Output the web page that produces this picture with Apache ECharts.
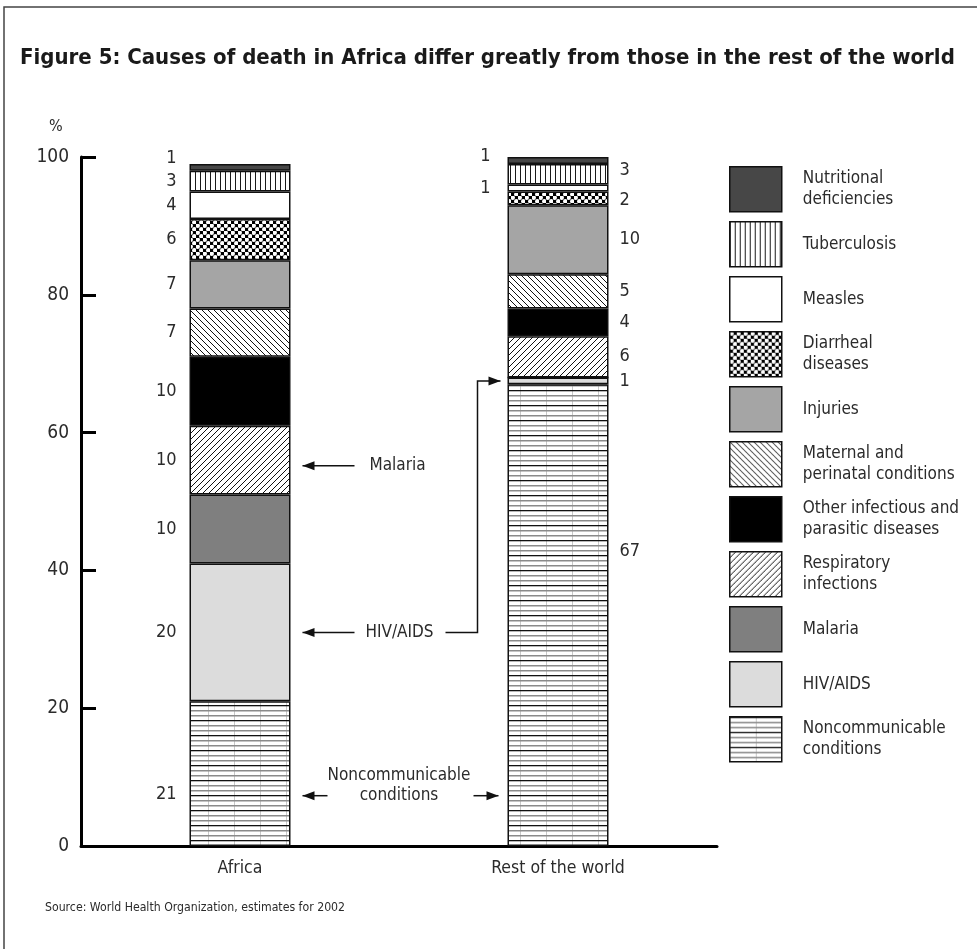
<!DOCTYPE html>
<html>
<head>
<meta charset="utf-8">
<title>Causes of death in Africa</title>
<script src="https://cdn.jsdelivr.net/npm/echarts@6/dist/echarts.min.js"></script>
<style>
  html, body { margin: 0; padding: 0; background: #fff; }
  #main { width: 977px; height: 949px; }
</style>
</head>
<body>
<div id="main"></div>
<script>
// Share of deaths (%) by cause, WHO estimates for 2002
const categories = ['Africa', 'Rest of the world'];
// Stacking order, bottom to top
const causes = [
  'Noncommunicable conditions',
  'HIV/AIDS',
  'Malaria',
  'Respiratory infections',
  'Other infectious and parasitic diseases',
  'Maternal and perinatal conditions',
  'Injuries',
  'Diarrheal diseases',
  'Measles',
  'Tuberculosis',
  'Nutritional deficiencies'
];
const africaShares = [21, 20, 10, 10, 10, 7, 7, 6, 4, 3, 1];
const restShares   = [67, 1, 0, 6, 4, 5, 10, 2, 1, 3, 1];
const yTicks = [0, 20, 40, 60, 80, 100];

const FONT = '"DejaVu Sans Condensed", "Liberation Sans Narrow", "Liberation Sans", sans-serif';
const INK = '#2b2b2b';

// ---- fill patterns -------------------------------------------------------
function pattern(w, h, draw) {
  const c = document.createElement('canvas');
  c.width = w; c.height = h;
  const ctx = c.getContext('2d');
  draw(ctx, w, h);
  return { image: c, repeat: 'repeat' };
}
const verticalLines = pattern(5, 5, (ctx, w, h) => {
  ctx.fillStyle = '#fff'; ctx.fillRect(0, 0, w, h);
  ctx.fillStyle = '#1a1a1a'; ctx.fillRect(0, 0, 1, h);
});
const dots = pattern(7, 7, (ctx, w, h) => {
  ctx.fillStyle = '#000'; ctx.fillRect(0, 0, w, h);
  ctx.fillStyle = '#fff';
  [[1.75, 1.75], [5.25, 5.25]].forEach(([x, y]) => {
    ctx.beginPath(); ctx.arc(x, y, 2.2, 0, Math.PI * 2); ctx.fill();
  });
});
function diagonal(backward) {
  return pattern(6, 6, (ctx, w, h) => {
    ctx.fillStyle = '#fff'; ctx.fillRect(0, 0, w, h);
    ctx.strokeStyle = '#111'; ctx.lineWidth = 1;
    for (let k = -w; k <= w; k += w) {
      ctx.beginPath();
      if (backward) { ctx.moveTo(k, 0); ctx.lineTo(k + w, h); }
      else { ctx.moveTo(k + w, 0); ctx.lineTo(k, h); }
      ctx.stroke();
    }
  });
}
const hLines = pattern(26, 15, (ctx, w, h) => {
  ctx.fillStyle = '#fff'; ctx.fillRect(0, 0, w, h);
  ctx.fillStyle = '#c8c8c8'; ctx.fillRect(0, 0, 1, h);
  ctx.fillStyle = '#111'; ctx.fillRect(0, 0, w, 1.3);
  ctx.fillStyle = '#8a8a8a'; ctx.fillRect(0, 5, w, 1.5); ctx.fillRect(0, 10, w, 1.5);
});

const fills = {
  'Noncommunicable conditions': hLines,
  'HIV/AIDS': '#dcdcdc',
  'Malaria': '#7f7f7f',
  'Respiratory infections': diagonal(false),
  'Other infectious and parasitic diseases': '#000000',
  'Maternal and perinatal conditions': diagonal(true),
  'Injuries': '#a5a5a5',
  'Diarrheal diseases': dots,
  'Measles': '#ffffff',
  'Tuberculosis': verticalLines,
  'Nutritional deficiencies': '#474747'
};

const legendText = {
  'Nutritional deficiencies': 'Nutritional\ndeficiencies',
  'Diarrheal diseases': 'Diarrheal\ndiseases',
  'Maternal and perinatal conditions': 'Maternal and\nperinatal conditions',
  'Other infectious and parasitic diseases': 'Other infectious and\nparasitic diseases',
  'Respiratory infections': 'Respiratory\ninfections',
  'Noncommunicable conditions': 'Noncommunicable\nconditions'
};

// Value label placement: side of the bar and small vertical nudges
const labelSide = [
  () => 'left',
  (i) => (i === 8 || i === 10) ? 'left' : 'right'
];
const labelNudge = [
  { 0: 21, 10: -9 },
  { 0: -64, 10: -4, 9: -4, 7: 2 }
];

function valueLabel(catIdx, causeIdx, v) {
  if (!v) return { show: false };
  const side = labelSide[catIdx](causeIdx);
  return {
    show: true,
    position: side,
    distance: side === 'left' ? (catIdx === 0 ? 13 : 17) : 11,
    offset: [0, labelNudge[catIdx][causeIdx] || 0],
    formatter: '{c}',
    fontFamily: FONT,
    fontSize: 18,
    color: INK
  };
}

const series = causes.map((name, i) => ({
  name,
  type: 'bar',
  stack: 'share',
  barWidth: 101,
  itemStyle: { color: fills[name], borderColor: '#111', borderWidth: 1.5 },
  emphasis: { disabled: true },
  data: [africaShares[i], restShares[i]].map((v, c) => ({ value: v, label: valueLabel(c, i, v) }))
}));

const chart = echarts.init(document.getElementById('main'), null, { renderer: 'canvas' });

chart.setOption({
  animation: false,
  backgroundColor: '#fff',
  grid: { left: 81, right: 260, top: 157, bottom: 103, containLabel: false },
  xAxis: {
    type: 'category',
    data: categories,
    axisLine: { lineStyle: { color: '#000', width: 3 } },
    axisTick: { inside: true, length: 18, lineStyle: { color: '#000', width: 2.5 } },
    axisLabel: { margin: 13, fontFamily: FONT, fontSize: 17.5, color: INK }
  },
  yAxis: {
    type: 'value',
    min: yTicks[0],
    max: yTicks[yTicks.length - 1],
    interval: yTicks[1] - yTicks[0],
    axisLine: { show: true, lineStyle: { color: '#000', width: 3 } },
    axisTick: { show: true, inside: true, length: 15, lineStyle: { color: '#000', width: 3 } },
    splitLine: { show: false },
    axisLabel: { margin: 12, fontFamily: FONT, fontSize: 19, color: INK }
  },
  legend: {
    orient: 'vertical',
    left: 729,
    top: 166,
    padding: 0,
    itemWidth: 52,
    itemHeight: 45,
    itemGap: 8.5,
    icon: 'rect',
    selectedMode: false,
    data: causes.slice().reverse(),
    formatter: (name) => legendText[name] || name,
    itemStyle: { borderColor: '#111', borderWidth: 1.5 },
    textStyle: { fontFamily: FONT, fontSize: 17, lineHeight: 21, color: INK, padding: [0, 0, 0, 16] }
  },
  series
});

// ---- title, frame and annotations ------------------------------------------
const toPx = (cat, v) => chart.convertToPixel({ gridIndex: 0 }, [cat, v]);
const half = 101 / 2;
const aRight = toPx(categories[0], 0)[0] + half;
const rLeft = toPx(categories[1], 0)[0] - half;

function arrowHead(x, y, dir) {
  const len = 12, hw = 4.5;
  return {
    type: 'polygon',
    shape: { points: [[x, y], [x - dir * len, y - hw], [x - dir * len, y + hw]] },
    style: { fill: '#111' }
  };
}
function hLine(x1, x2, y) {
  return { type: 'line', shape: { x1, y1: y, x2, y2: y }, style: { stroke: '#111', lineWidth: 1.5 } };
}
function label(text, x, y, opts) {
  return {
    type: 'text',
    x, y,
    style: Object.assign({ text, fill: INK, font: '17px ' + FONT, textAlign: 'center', textVerticalAlign: 'middle' }, opts || {})
  };
}

// cumulative midpoints of the annotated bands
const cum = (arr, idx) => arr.slice(0, idx).reduce((s, v) => s + v, 0);
const mid = (arr, idx) => cum(arr, idx) + arr[idx] / 2;

// heights (in %) at which the call-outs sit
const yMalaria = toPx(categories[0], 55.2)[1];
const yHiv = toPx(categories[0], mid(africaShares, 1))[1];
const yHivRest = toPx(categories[1], mid(restShares, 1))[1];
const yNc = toPx(categories[0], 7.3)[1];

const graphics = [
  // outer frame
  { type: 'polyline', shape: { points: [[4, 949], [4, 7], [977, 7]] }, style: { stroke: '#444', lineWidth: 1.5, fill: null } },
  { type: 'text', x: 20, y: 58, style: { text: 'Figure 5: Causes of death in Africa differ greatly from those in the rest of the world', fill: '#1a1a1a', font: 'bold 22px ' + FONT, textVerticalAlign: 'middle' } },
  { type: 'text', x: 49, y: 127, style: { text: '%', fill: INK, font: '16px ' + FONT, textVerticalAlign: 'middle' } },
  { type: 'text', x: 45, y: 908, style: { text: 'Source: World Health Organization, estimates for 2002', fill: INK, font: '12.2px ' + FONT, textVerticalAlign: 'middle' } },

  // Malaria
  hLine(aRight + 12, aRight + 64, yMalaria),
  arrowHead(aRight + 12, yMalaria, -1),
  label('Malaria', aRight + 107, yMalaria),

  // HIV/AIDS, pointing to both bars
  hLine(aRight + 12, aRight + 64, yHiv),
  arrowHead(aRight + 12, yHiv, -1),
  label('HIV/AIDS', aRight + 109, yHiv),
  { type: 'polyline', shape: { points: [[aRight + 155, yHiv], [aRight + 187, yHiv], [aRight + 187, yHivRest], [rLeft - 7, yHivRest]] }, style: { stroke: '#111', lineWidth: 1.5, fill: null } },
  arrowHead(rLeft - 7, yHivRest, 1),

  // Noncommunicable conditions
  label('Noncommunicable', (aRight + rLeft) / 2, yNc - 20),
  label('conditions', (aRight + rLeft) / 2, yNc),
  hLine(aRight + 12, aRight + 37, yNc),
  arrowHead(aRight + 12, yNc, -1),
  hLine(rLeft - 34, rLeft - 9, yNc),
  arrowHead(rLeft - 9, yNc, 1)
];

chart.setOption({ graphic: { elements: graphics } });
</script>
</body>
</html>
